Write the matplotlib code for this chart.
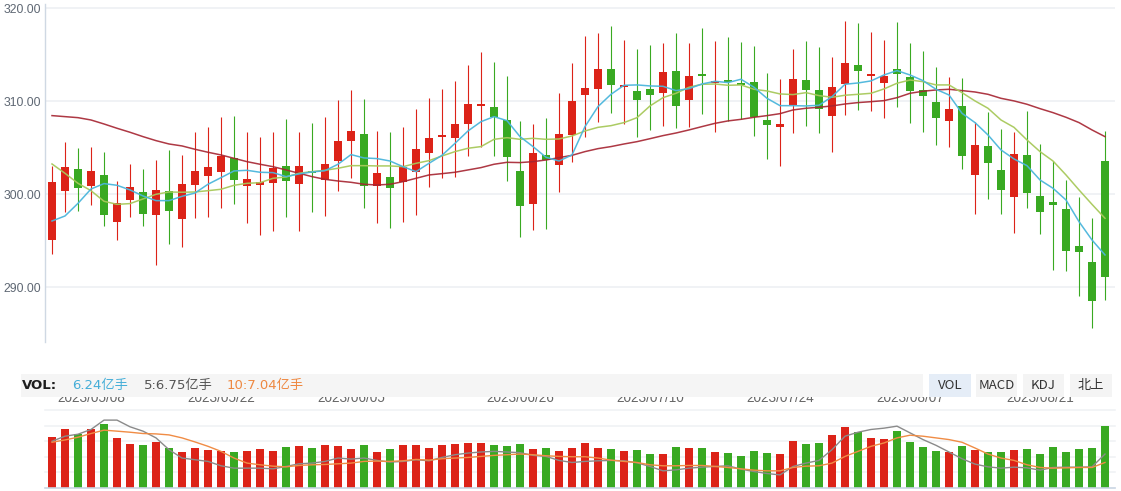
import matplotlib
matplotlib.use("Agg")
import matplotlib.pyplot as plt
from matplotlib.patches import Rectangle

plt.rcParams['font.family'] = ['Noto Sans CJK SC', 'DejaVu Sans']

# ---------------- data ----------------
opens = [295.13, 300.36, 302.72, 300.93, 302.08, 297.06, 299.43, 300.25, 297.81, 300.36,
         297.38, 301.04, 302.01, 302.40, 303.94, 300.93, 301.04, 301.22, 303.08, 301.15,
         302.51, 301.54, 303.58, 305.73, 306.49, 300.93, 301.86, 301.36, 302.44, 304.44,
         306.20, 306.06, 307.56, 309.50, 309.39, 307.99, 302.51, 299.00, 304.23, 303.19,
         306.38, 310.68, 311.33, 313.48, 311.54, 311.11, 311.33, 310.90, 313.26, 310.14,
         312.94, 311.94, 312.29, 311.97, 312.08, 307.99, 307.24, 309.61, 312.29, 311.22,
         308.42, 311.86, 313.91, 312.72, 311.97, 313.48, 312.62, 311.22, 309.93, 307.89,
         309.50, 302.08, 305.20, 302.62, 299.71, 304.23, 299.82, 299.18, 298.42, 294.44,
         292.72, 303.58]
closes = [301.29, 302.94, 300.72, 302.51, 297.81, 299.07, 300.79, 297.92, 300.47, 298.24,
          301.15, 302.51, 302.94, 304.16, 301.54, 301.65, 301.36, 302.87, 301.43, 303.08,
          302.29, 303.26, 305.73, 306.81, 300.93, 302.29, 300.72, 302.94, 304.87, 306.06,
          306.38, 307.56, 309.71, 309.61, 308.28, 304.05, 298.78, 304.44, 303.69, 306.49,
          310.04, 311.43, 313.48, 311.76, 311.68, 310.14, 310.68, 313.15, 309.50, 312.72,
          312.72, 312.19, 312.08, 311.72, 308.32, 307.46, 307.56, 312.40, 311.22, 309.18,
          311.54, 314.12, 313.26, 312.94, 312.72, 312.94, 311.11, 310.57, 308.21, 309.18,
          304.12, 305.30, 303.37, 300.47, 304.34, 300.14, 298.10, 298.85, 293.91, 293.80,
          288.53, 291.11]
highs = [303.08, 305.63, 304.98, 305.13, 304.55, 301.43, 303.26, 302.72, 303.69, 304.77,
         304.23, 306.70, 307.24, 308.32, 308.42, 306.70, 306.16, 306.70, 308.10, 306.70,
         307.67, 308.32, 310.14, 311.22, 310.25, 306.81, 306.70, 307.24, 309.18, 310.36,
         311.33, 312.19, 313.91, 315.30, 314.23, 312.72, 307.89, 307.56, 308.21, 310.90,
         314.12, 317.03, 317.35, 318.10, 316.59, 315.63, 316.06, 316.27, 317.35, 316.27,
         317.89, 316.49, 316.92, 316.38, 315.95, 313.05, 312.40, 315.63, 316.49, 315.84,
         314.77, 318.64, 318.42, 317.46, 316.59, 318.53, 316.27, 315.41, 313.69, 312.62,
         312.51, 307.78, 308.85, 307.03, 306.70, 308.96, 305.41, 303.58, 301.54, 299.71,
         297.46, 306.81]
lows = [293.58, 298.10, 298.21, 298.89, 296.59, 295.13, 297.56, 296.59, 292.40, 294.66,
        294.34, 297.46, 297.56, 298.53, 298.96, 296.95, 295.63, 296.09, 297.56, 296.09,
        298.10, 297.67, 300.36, 301.76, 298.53, 296.95, 296.38, 297.06, 297.78, 300.79,
        301.79, 301.86, 304.12, 305.09, 304.12, 301.43, 295.41, 296.16, 296.27, 300.25,
        303.48, 306.16, 307.78, 308.75, 307.60, 306.16, 306.92, 307.35, 307.13, 307.24,
        308.64, 306.70, 307.89, 308.10, 306.27, 303.80, 303.05, 306.59, 307.35, 306.59,
        304.55, 308.53, 309.07, 308.96, 308.21, 309.39, 307.67, 306.70, 305.30, 305.09,
        302.72, 297.89, 299.50, 297.89, 295.84, 298.53, 295.73, 291.86, 291.76, 289.07,
        285.63, 288.64]

ma5 = [297.13, 297.67, 299.03, 300.57, 301.15, 300.97, 300.47, 299.82, 299.32, 299.32,
       299.78, 300.14, 301.08, 301.79, 302.51, 302.58, 302.37, 302.33, 301.90, 302.19,
       302.40, 302.54, 303.23, 304.27, 303.91, 303.84, 303.58, 302.97, 302.44, 303.33,
       304.19, 305.48, 306.81, 307.81, 308.35, 307.92, 306.20, 305.13, 303.98, 303.58,
       304.23, 307.28, 309.43, 310.75, 311.72, 311.76, 311.65, 311.61, 311.15, 311.36,
       311.86, 312.15, 312.01, 312.37, 311.51, 310.32, 309.53, 309.53, 309.50, 309.57,
       310.50, 311.83, 311.97, 312.19, 312.83, 313.30, 312.83, 312.22, 311.29, 310.68,
       308.71, 307.71, 306.38, 304.77, 303.80, 303.08, 301.54, 300.65, 299.39, 297.06,
       295.09, 293.48]
ma10 = [303.26, 302.26, 301.18, 300.39, 299.25, 298.92, 299.00, 299.50, 300.00, 300.25,
        300.22, 300.25, 300.39, 300.54, 300.97, 301.18, 301.25, 301.72, 301.86, 302.26,
        302.44, 302.58, 302.80, 303.08, 303.08, 303.05, 303.05, 302.97, 303.33, 303.62,
        304.12, 304.59, 304.95, 305.13, 305.91, 306.09, 305.91, 306.02, 305.91, 305.95,
        306.27, 306.81, 307.20, 307.38, 307.71, 308.24, 309.50, 310.39, 310.86, 311.51,
        311.83, 311.86, 311.72, 311.76, 311.29, 311.11, 310.79, 310.72, 310.93, 310.61,
        310.43, 310.65, 310.75, 310.86, 311.33, 311.94, 312.29, 312.11, 311.76, 311.76,
        310.93, 310.04, 309.25, 307.99, 307.20, 305.84, 304.59, 303.58, 302.08, 300.47,
        298.92, 297.42]
ma30 = [308.46, 308.35, 308.24, 307.99, 307.56, 307.10, 306.67, 306.20, 305.77, 305.41,
        305.20, 304.84, 304.52, 304.23, 303.87, 303.51, 303.23, 302.97, 302.62, 302.26,
        301.90, 301.61, 301.43, 301.29, 301.08, 301.00, 301.08, 301.36, 301.72, 302.08,
        302.22, 302.37, 302.62, 302.87, 303.23, 303.44, 303.41, 303.51, 303.69, 303.94,
        304.19, 304.59, 304.91, 305.13, 305.41, 305.66, 305.98, 306.31, 306.59, 306.92,
        307.28, 307.63, 307.89, 308.06, 308.28, 308.46, 308.67, 309.07, 309.25, 309.36,
        309.50, 309.71, 309.86, 309.96, 310.07, 310.39, 310.86, 311.08, 311.22, 311.29,
        311.15, 311.00, 310.75, 310.32, 310.04, 309.68, 309.21, 308.78, 308.28, 307.71,
        306.92, 306.20]

volume = [8.24, 9.43, 8.67, 9.43, 10.18, 8.08, 7.11, 6.95, 7.44, 6.47,
          5.82, 6.47, 6.14, 5.98, 5.82, 5.98, 6.30, 5.98, 6.63, 6.79,
          6.47, 6.95, 6.79, 6.30, 6.95, 5.82, 6.30, 6.95, 6.95, 6.47,
          6.95, 7.11, 7.27, 7.27, 6.95, 6.79, 7.11, 6.30, 6.47, 5.98,
          6.47, 7.27, 6.47, 6.30, 5.98, 6.14, 5.50, 5.50, 6.63, 6.47,
          6.47, 5.82, 5.66, 5.17, 5.98, 5.66, 5.50, 7.60, 7.11, 7.27,
          8.57, 9.70, 9.05, 8.08, 7.81, 9.21, 7.44, 6.63, 5.98, 5.82,
          6.79, 6.14, 5.82, 5.82, 6.14, 6.30, 5.50, 6.63, 5.82, 6.30,
          6.47, 9.86]
vol_ma5 = [7.49, 8.30, 8.62, 9.38, 10.88, 10.88, 9.81, 9.11, 8.03, 6.14,
           4.80, 4.53, 4.26, 3.56, 3.18, 3.18, 3.18, 3.07, 3.45, 3.88,
           3.99, 4.26, 4.80, 4.63, 4.80, 4.42, 4.15, 4.26, 4.53, 4.36,
           4.90, 5.33, 5.60, 5.77, 5.87, 5.77, 5.66, 5.23, 5.06, 4.42,
           4.09, 4.26, 4.36, 4.42, 4.36, 4.04, 3.45, 2.75, 2.91, 3.18,
           3.34, 3.45, 3.56, 3.02, 2.64, 2.32, 2.10, 3.45, 3.99, 4.42,
           6.14, 8.30, 8.94, 9.38, 9.59, 9.91, 8.84, 7.76, 6.84, 5.77,
           4.69, 3.83, 3.39, 3.18, 3.34, 3.23, 2.86, 3.29, 3.34, 3.34,
           3.39, 5.44]
vol_ma10 = [7.33, 7.70, 8.14, 8.73, 9.27, 9.11, 8.94, 8.73, 8.67, 8.51,
            8.03, 7.38, 6.68, 5.87, 4.80, 3.99, 3.72, 3.50, 3.39, 3.61,
            3.72, 3.77, 3.88, 3.99, 4.26, 4.31, 4.26, 4.36, 4.58, 4.47,
            4.69, 4.80, 4.90, 5.06, 5.23, 5.33, 5.44, 5.33, 5.17, 5.06,
            5.01, 5.01, 4.80, 4.47, 4.26, 4.09, 3.72, 3.56, 3.56, 3.61,
            3.61, 3.45, 3.29, 3.07, 2.86, 2.75, 2.75, 3.29, 3.50, 3.56,
            3.99, 5.06, 5.87, 6.68, 7.22, 8.03, 8.46, 8.30, 8.03, 7.76,
            7.33, 6.41, 5.44, 4.80, 4.42, 3.72, 3.29, 3.18, 3.23, 3.29,
            3.29, 4.09]

date_tick_idx = [3, 13, 23, 36, 46, 56, 66, 76]
date_tick_labels = ['2023/05/08', '2023/05/22', '2023/06/05', '2023/06/26',
                    '2023/07/10', '2023/07/24', '2023/08/07', '2023/08/21']
price_ticks = [290, 300, 310, 320]

header_items = [('VOL:', '#1e1e1e', 22, True),
                ('6.24亿手', '#45aed8', 72, False),
                ('5:6.75亿手', '#555555', 144, False),
                ('10:7.04亿手', '#ee8841', 227, False)]
buttons = ['VOL', 'MACD', 'KDJ', '北上']

# ---------------- style ----------------
RED = '#dc2318'
GREEN = '#39a922'
W, H = 1121, 491
LATIN = ['Liberation Sans', 'DejaVu Sans']
MIXED = ['DejaVu Sans', 'Noto Sans CJK SC']


def fx(px):
    return px / W


def fy(py):
    return 1 - py / H


n = len(closes)
xs = list(range(n))
up = [c >= o for o, c in zip(opens, closes)]
cols = [RED if u else GREEN for u in up]

fig = plt.figure(figsize=(W / 100, H / 100), dpi=100)

# ---------------- price panel ----------------
ax = fig.add_axes([fx(45), fy(342), fx(1115) - fx(45), fy(4) - fy(342)])
ax.set_xlim(-7 / 13, 1063 / 13)
ax.set_ylim(284.12, 320.46)
for s in ['top', 'right', 'bottom']:
    ax.spines[s].set_visible(False)
ax.spines['left'].set_color('#cfd8e3')
ax.spines['left'].set_linewidth(1.0)
ax.set_xticks([])
ax.set_yticks(price_ticks)
ax.set_yticklabels(['%.2f' % v for v in price_ticks])
ax.tick_params(axis='y', length=0, pad=3, labelcolor='#5e6773')
for lab in ax.get_yticklabels():
    lab.set_family(LATIN)
    lab.set_fontsize(8.8)
ax.yaxis.grid(True, color='#eff1f4', linewidth=1.3)
ax.set_axisbelow(True)

ax.vlines(xs, lows, highs, colors=cols, linewidth=0.8, zorder=2)
body_bottom = [min(o, c) for o, c in zip(opens, closes)]
body_h = [max(abs(c - o), 0.18) for o, c in zip(opens, closes)]
ax.bar(xs, body_h, bottom=body_bottom, width=0.64, color=cols, linewidth=0, zorder=3)

ax.plot(xs, ma30, color='#a52330', linewidth=1.1, alpha=0.9, zorder=4)
ax.plot(xs, ma10, color='#a8c95b', linewidth=1.1, alpha=0.95, zorder=4)
ax.plot(xs, ma5, color='#4bb6dc', linewidth=1.1, alpha=0.95, zorder=4)

# ---------------- volume panel ----------------
ax2 = fig.add_axes([fx(45), fy(488), fx(1115) - fx(45), fy(410) - fy(488)])
ax2.set_xlim(-7 / 13, 1063 / 13)
ax2.set_ylim(0, 12.5)
for s in ['top', 'right', 'left']:
    ax2.spines[s].set_visible(False)
ax2.spines['bottom'].set_color('#c9d5e3')
ax2.spines['bottom'].set_linewidth(1.2)
ax2.set_xticks([])
ax2.set_yticks([])
for gv in [2.5, 5.0, 7.5, 10.0, 12.5]:
    ax2.axhline(gv, color='#eff1f4', linewidth=1.1, zorder=0, clip_on=False)
ax2.bar(xs, volume, width=0.58, color=cols, linewidth=0, zorder=2)
ax2.plot(xs, vol_ma5, color='#8a8a8a', linewidth=1.0, zorder=3)
ax2.plot(xs, vol_ma10, color='#f08c45', linewidth=1.0, zorder=3)

# ---------------- date labels (partly hidden by header bar) ----------------
for k, lab in zip(date_tick_idx, date_tick_labels):
    fig.text(fx(52 + 13 * k), fy(402.3), lab, ha='center', va='baseline',
             fontsize=9.8, color='#666666', family=LATIN, zorder=1)

# header bar (drawn above the date labels so their tops are hidden)
fig.add_artist(Rectangle((fx(21), fy(397.0)), fx(923) - fx(21), fy(374) - fy(397.0),
                         transform=fig.transFigure, facecolor='#f5f5f5',
                         edgecolor='none', zorder=10))
fig.add_artist(Rectangle((fx(923), fy(397.0)), fx(1121) - fx(923), fy(374) - fy(397.0),
                         transform=fig.transFigure, facecolor='white',
                         edgecolor='none', zorder=10))
for text, color, px, bold in header_items:
    fig.text(fx(px), fy(385.5), text, ha='left', va='center', fontsize=9.5,
             color=color, family=MIXED, fontweight='bold' if bold else 'normal',
             zorder=12)

btn_x = [(929, 971), (976, 1017), (1023, 1064), (1070, 1112)]
btn_bg = ['#e5edf7', '#f4f4f4', '#f4f4f4', '#f4f4f4']
for (x0, x1), bg, label in zip(btn_x, btn_bg, buttons):
    fig.add_artist(Rectangle((fx(x0), fy(397.0)), fx(x1) - fx(x0), fy(374) - fy(397.0),
                             transform=fig.transFigure, facecolor=bg,
                             edgecolor='none', zorder=11))
    fig.text(fx((x0 + x1) / 2), fy(385.5), label, ha='center', va='center',
             fontsize=9.5, color='#333333', zorder=12)

fig.savefig('out.png', dpi=100)
